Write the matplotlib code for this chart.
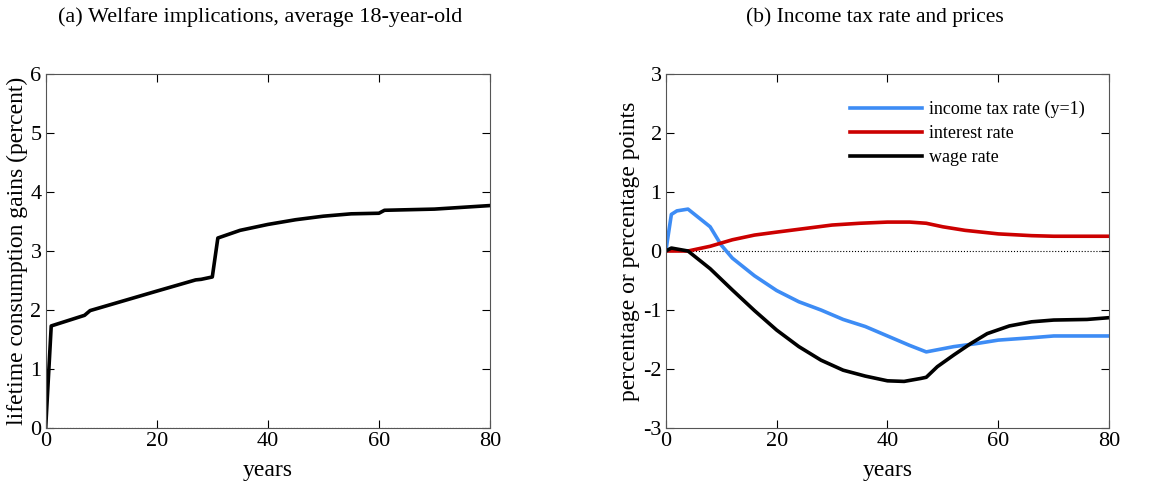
import matplotlib.pyplot as plt

plt.rcParams['font.family'] = ['Liberation Serif', 'DejaVu Serif']
plt.rcParams['axes.unicode_minus'] = False

# panel (a): welfare gains by cohort
years_a = [0, 1, 7, 8, 20, 27, 28, 30, 31, 35, 40, 45, 50, 55, 60, 61, 70, 80]
gains = [0, 1.73, 1.91, 1.99, 2.32, 2.51, 2.52, 2.56, 3.22, 3.35, 3.45, 3.53,
         3.59, 3.63, 3.64, 3.69, 3.71, 3.77]

# panel (b): income tax rate, interest rate, wage rate
years_tax = [0, 1, 2, 4, 8, 10, 12, 16, 20, 24, 28, 32, 36, 40, 44, 47, 52, 56, 60, 66, 70, 80]
tax = [0, 0.62, 0.68, 0.71, 0.41, 0.1, -0.12, -0.42, -0.67, -0.86, -1.0, -1.16,
       -1.28, -1.44, -1.6, -1.71, -1.62, -1.57, -1.51, -1.47, -1.44, -1.44]

years_r = [0, 4, 8, 12, 16, 20, 25, 30, 35, 40, 44, 47, 50, 54, 60, 66, 70, 80]
interest = [0, 0, 0.08, 0.19, 0.27, 0.32, 0.38, 0.44, 0.47, 0.49, 0.49, 0.47,
            0.41, 0.35, 0.29, 0.26, 0.25, 0.25]

years_w = [0, 1, 4, 8, 12, 16, 20, 24, 28, 32, 36, 40, 43, 46, 47, 49, 52, 55,
           58, 62, 66, 70, 76, 80]
wage = [0, 0.05, 0.0, -0.3, -0.66, -1.01, -1.34, -1.62, -1.85, -2.02, -2.12,
        -2.2, -2.21, -2.16, -2.14, -1.96, -1.76, -1.57, -1.4, -1.27, -1.2,
        -1.17, -1.16, -1.13]

fig = plt.figure(figsize=(11.62, 4.87), dpi=100)
ax1 = fig.add_axes([0.0393, 0.1211, 0.3824, 0.727])
ax2 = fig.add_axes([0.573, 0.1211, 0.3815, 0.727])

for ax in (ax1, ax2):
    ax.tick_params(direction='in', top=True, right=True, labelsize=16, length=6, pad=3)
    ax.set_xlim(0, 80)
    ax.set_xticks([0, 20, 40, 60, 80])
    ax.set_xlabel('years', fontsize=17, labelpad=6)
    for s in ax.spines.values():
        s.set_color('#555555')

ax1.plot(years_a, gains, color='black', lw=2.6)
ax1.axhline(0, color='black', lw=0.8, ls=':')
ax1.set_ylim(0, 6)
ax1.set_ylabel('lifetime consumption gains (percent)', fontsize=17, labelpad=2)
fig.text(0.2238, 0.965, '(a) Welfare implications, average 18-year-old',
         ha='center', va='center', fontsize=16)

ax2.axhline(0, color='black', lw=0.8, ls=':')
ax2.plot(years_tax, tax, color='#3d8cf5', lw=2.6, label='income tax rate (y=1)')
ax2.plot(years_r, interest, color='#cc0000', lw=2.6, label='interest rate')
ax2.plot(years_w, wage, color='black', lw=2.6, label='wage rate')
ax2.set_ylim(-3, 3)
ax2.set_ylabel('percentage or percentage points', fontsize=17, labelpad=2)
ax2.legend(loc='upper right', frameon=False, fontsize=13, handlelength=4,
           handletextpad=0.4, borderaxespad=0, labelspacing=0.4,
           bbox_to_anchor=(0.962, 0.945))
fig.text(0.753, 0.965, '(b) Income tax rate and prices',
         ha='center', va='center', fontsize=15.5)

fig.savefig('out.png', dpi=100)
